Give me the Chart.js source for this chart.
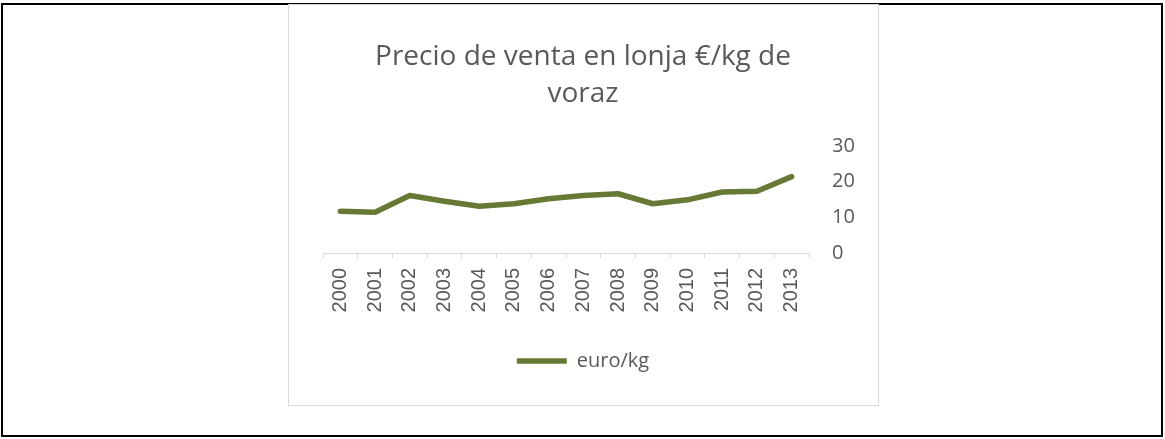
<!DOCTYPE html>
<html>
<head>
<meta charset="utf-8">
<script src="https://cdn.jsdelivr.net/npm/chart.js@4"></script>
<style>
  html, body { margin: 0; padding: 0; background: #fff; }
  body { width: 1165px; height: 439px; position: relative; overflow: hidden; }
  .outer { position: absolute; left: 1px; top: 3px; width: 1162px; height: 434px; border: 2px solid #000; box-sizing: border-box; }
  .frame { position: absolute; left: 288px; top: 4px; width: 591px; height: 402px; border: 1px solid #d9d9d9; box-sizing: border-box; }
  .wrap { position: absolute; left: 288px; top: 4px; width: 590px; height: 401px; }
</style>
</head>
<body>
<div class="outer"></div>
<div class="frame"></div>
<div class="wrap"><canvas id="lineChart"></canvas></div>
<script>
/* ======= Data ======= */
const years = ['2000', '2001', '2002', '2003', '2004', '2005', '2006', '2007', '2008', '2009', '2010', '2011', '2012', '2013'];
const euroKg = [11.7, 11.4, 16.1, 14.5, 13.1, 13.8, 15.2, 16.1, 16.6, 13.8, 14.9, 17.1, 17.3, 21.4];
const yTicks = [0, 10, 20, 30];
const titleLines = ['Precio de venta en lonja €/kg de', 'voraz'];

const textColor = '#595959';
const lineColor = '#667a36';

/* ======= Line chart ======= */
const ctx = document.getElementById('lineChart');
new Chart(ctx, {
    type: 'line',
    data: {
        labels: years,
        datasets: [{
            label: 'euro/kg',
            data: euroKg,
            borderColor: lineColor,
            backgroundColor: lineColor,
            borderWidth: 5.5,
            borderCapStyle: 'round',
            borderJoinStyle: 'round',
            fill: false,
            tension: 0,
            pointRadius: 0,
            yAxisID: 'y',
        }],
    },
    options: {
        responsive: true,
        maintainAspectRatio: false,
        animation: false,
        layout: {
            padding: { left: 0, right: 0, top: 0, bottom: 24 },
        },
        plugins: {
            title: {
                display: true,
                text: titleLines,
                color: textColor,
                font: { family: 'Open Sans', size: 28, weight: 400, lineHeight: 1.32 },
                padding: { top: 35, bottom: 33 },
            },
            legend: {
                position: 'bottom',
                labels: {
                    usePointStyle: true,
                    pointStyle: 'line',
                    pointStyleWidth: 50,
                    color: textColor,
                    padding: 10,
                    font: { family: 'Open Sans', size: 20 },
                },
            },
            tooltip: { enabled: false },
        },
        scales: {
            x: {
                offset: true,
                afterFit(scale) { scale.height = 88; },
                grid: {
                    offset: true,
                    drawOnChartArea: false,
                    drawTicks: true,
                    tickLength: 5,
                    color: '#d9d9d9',
                },
                border: { display: true, color: '#d9d9d9', width: 1 },
                ticks: {
                    minRotation: 90,
                    maxRotation: 90,
                    autoSkip: false,
                    padding: 10,
                    color: textColor,
                    font: { family: 'Liberation Sans', size: 20 },
                },
            },
            // empty spacer on the left so the legend stays centred in the frame
            spacer: {
                type: 'linear',
                position: 'left',
                afterFit(scale) { scale.width = 35; },
                grid: { display: false },
                border: { display: false },
                ticks: { display: false },
            },
            y: {
                position: 'right',
                min: 0,
                max: 30,
                afterFit(scale) { scale.width = 69; },
                afterBuildTicks(scale) { scale.ticks = yTicks.map(v => ({ value: v })); },
                grid: { display: false, drawTicks: false },
                border: { display: false },
                ticks: {
                    padding: 23,
                    color: textColor,
                    font: { family: 'Open Sans', size: 20 },
                },
            },
        },
    },
});
</script>
</body>
</html>
